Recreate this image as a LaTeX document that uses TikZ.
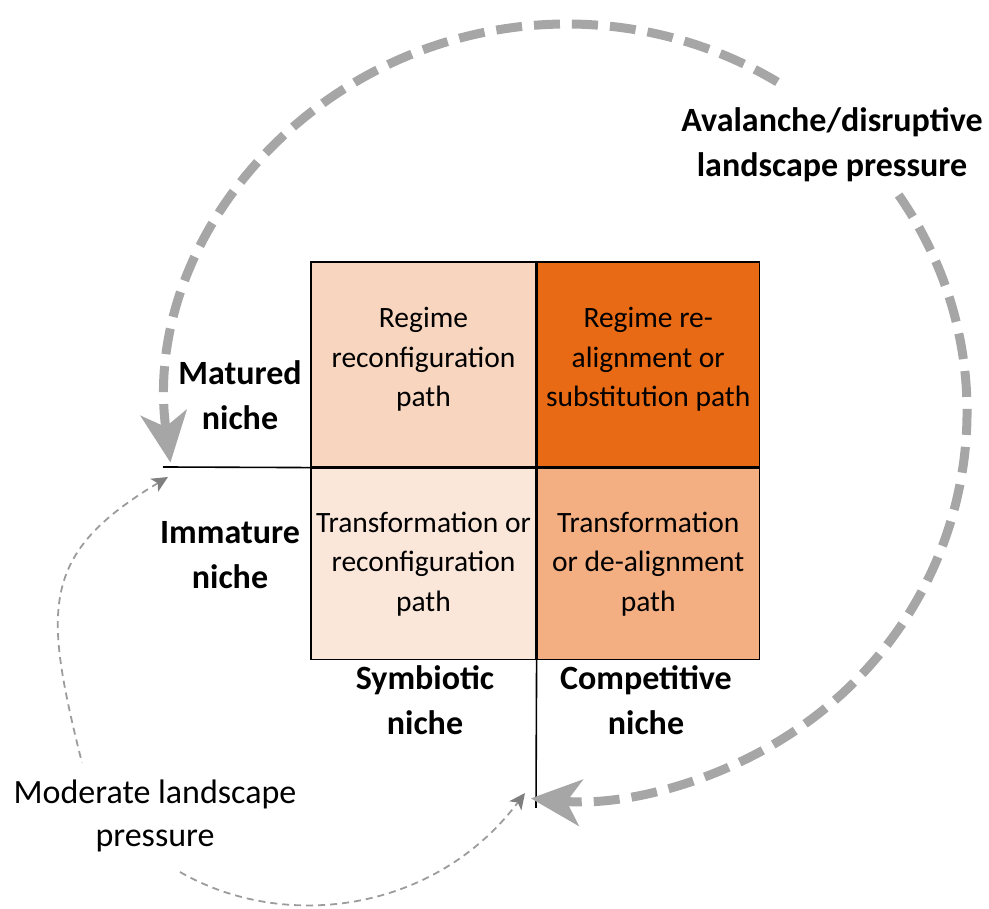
\documentclass[tikz,border=0pt]{standalone}
\usepackage{fontspec}
\setmainfont{Carlito}
\usepackage{tikz}
\usetikzlibrary{positioning, arrows.meta}

\definecolor{cellTL}{HTML}{F8D5BF}
\definecolor{cellTR}{HTML}{E96A15}
\definecolor{cellBL}{HTML}{FBE6DA}
\definecolor{cellBR}{HTML}{F3AF82}
\definecolor{arcgray}{HTML}{A6A6A6}
\definecolor{dashgray}{HTML}{9C9C9C}
\definecolor{tipgray}{HTML}{7F7F7F}

\begin{document}
\begin{tikzpicture}[x=1pt, y=1pt,
    cell/.style={draw=black, line width=1.2pt, inner sep=0pt, align=center,
      font=\fontsize{29.5}{39.5}\selectfont},
    nichelbl/.style={align=center, font=\fontsize{34}{45}\selectfont\bfseries},
    modlbl/.style={align=center, font=\fontsize{34}{43}\selectfont},
    bigpress/.style={draw=arcgray, line width=9pt, dash pattern=on 26pt off 12pt,
      >={Stealth[length=50pt, width=46pt, inset=14pt]}},
    modpress/.style={draw=dashgray, line width=1.8pt, dash pattern=on 7pt off 5pt,
      >={Stealth[length=16pt, width=15pt, inset=4pt, color=tipgray]}}]
  \useasboundingbox (0,0) rectangle (989,909);

  % the four paths
  \node[cell, fill=cellTL, minimum width=225pt, minimum height=205pt]
  (regConf) at (423.5,544.5) {Regime\\reconfiguration\\path\\[-25pt]\mbox{}};
  \node[cell, fill=cellTR, minimum width=222pt, minimum height=205pt,
  right=0pt of regConf] (realign) {Regime re-\\alignment or\\substitution path\\[-25pt]\mbox{}};
  \node[cell, fill=cellBL, minimum width=225pt, minimum height=191pt,
  below=0pt of regConf] (transConf) {Transformation or\\reconfiguration\\path};
  \node[cell, fill=cellBR, minimum width=222pt, minimum height=191pt,
  right=0pt of transConf] (dealign) {Transformation\\or de-alignment\\path};

  % axis labels
  \node[nichelbl] (matured) at (240,514) {Matured\\niche};
  \node[nichelbl] (immature) at (230,354) {Immature\\niche};
  \node[nichelbl] (symbiotic) at (425,209) {Symbiotic\\niche};
  \node[nichelbl] (competitive) at (646,209) {Competitive\\niche};

  \coordinate (hEnd) at (163,442);
  \coordinate (vEnd) at (536,101);
  \draw[line width=1.6pt] (hEnd) -- (regConf.south west);
  \draw[line width=1.6pt] (transConf.south east) -- (vEnd);

  % avalanche pressure
  \node[nichelbl] (avalanche) at (832,764) {Avalanche/disruptive\\landscape pressure};
  \coordinate (bigC) at (567,497);
  \path (bigC) ++(187.5:400 and 388) coordinate (avStart);
  \path (bigC) ++(34:400 and 388) coordinate (avResume);
  \draw[bigpress, <-] (avStart) arc[start angle=187.5, end angle=57,
    x radius=400, y radius=388];
  \draw[bigpress, ->] (avResume) arc[start angle=34, end angle=-95.2,
    x radius=400, y radius=388];

  % moderate pressure
  \node[modlbl] (moderate) at (155,93) {Moderate landscape\\pressure};
  \coordinate (modTop) at (168,432);
  \coordinate (modLeft) at (82,146);
  \coordinate (modLow) at (180,37);
  \coordinate (modRight) at (525,116);
  \draw[modpress, <-] (modTop) .. controls (39.5,354.8) and (43.3,301.2) .. (modLeft);
  \draw[modpress, ->] (modLow) .. controls (283.9,-23) and (434.7,-3.85) .. (modRight);
\end{tikzpicture}
\end{document}
